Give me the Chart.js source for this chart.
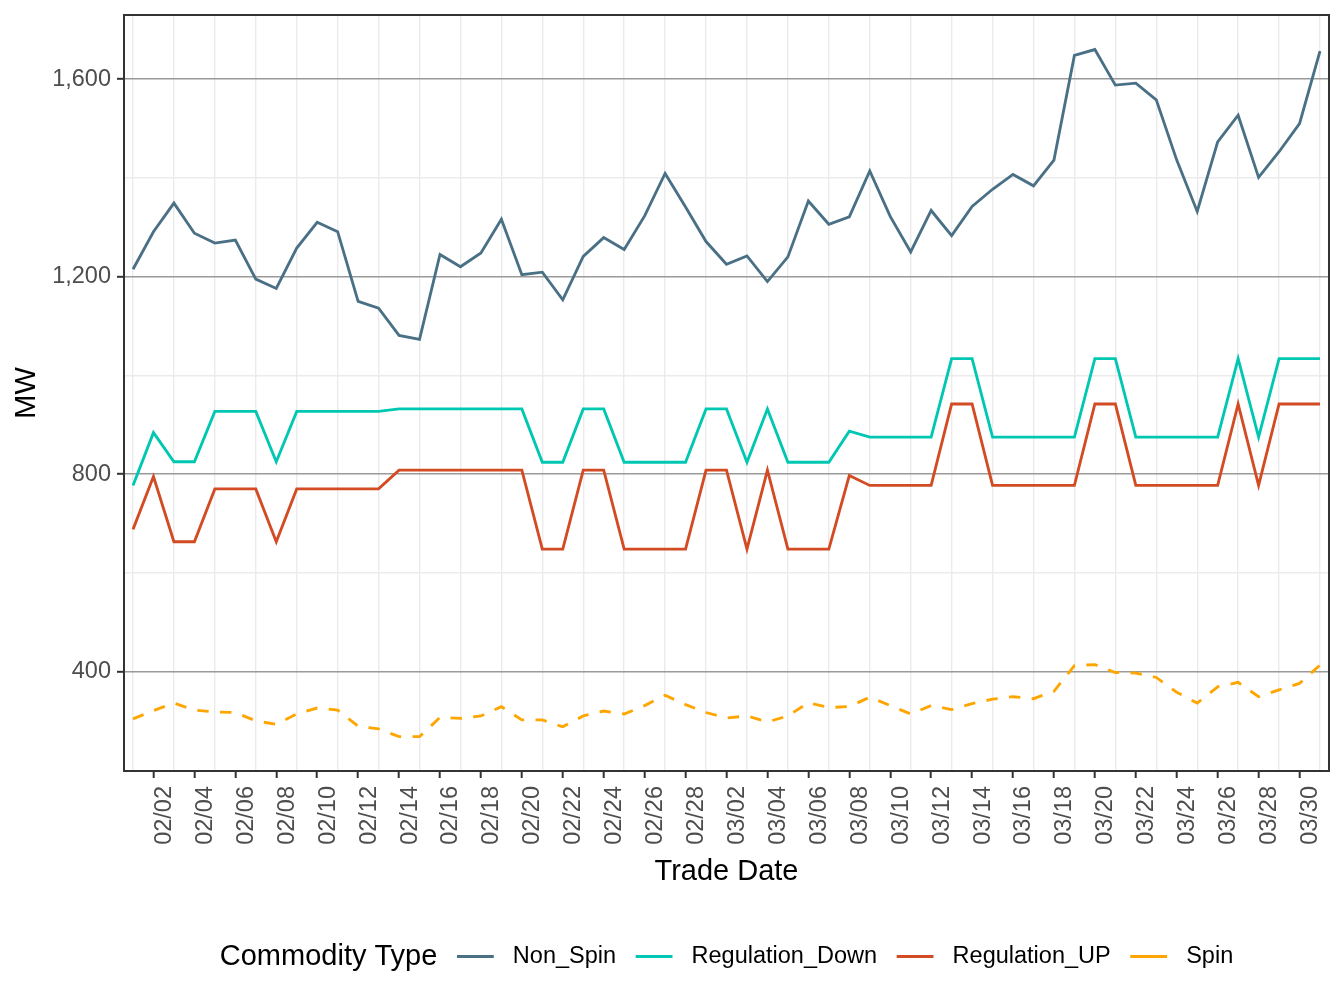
<!DOCTYPE html>
<html><head><meta charset="utf-8">
<script src="https://cdn.jsdelivr.net/npm/chart.js@4.4.1/dist/chart.umd.min.js"></script>
<style>html,body{margin:0;padding:0;background:#fff;}#wrap{width:1344px;height:1008px;}</style>
</head><body><div id="wrap"><canvas id="c" width="1344" height="1008"></canvas></div>
<script>
const dates = ['02/01','02/02','02/03','02/04','02/05','02/06','02/07','02/08','02/09','02/10',
  '02/11','02/12','02/13','02/14','02/15','02/16','02/17','02/18','02/19','02/20',
  '02/21','02/22','02/23','02/24','02/25','02/26','02/27','02/28','03/01','03/02',
  '03/03','03/04','03/05','03/06','03/07','03/08','03/09','03/10','03/11','03/12',
  '03/13','03/14','03/15','03/16','03/17','03/18','03/19','03/20','03/21','03/22',
  '03/23','03/24','03/25','03/26','03/27','03/28','03/29','03/30','03/31'];
const nonSpin = [1215,1291,1349,1288,1268,1274,1195,1176,1258,1310,
  1291,1150,1136,1081,1073,1245,1220,1248,1316,1204,
  1209,1153,1241,1279,1255,1323,1409,1341,1271,1225,
  1242,1190,1240,1353,1306,1321,1414,1322,1250,1334,
  1283,1342,1377,1407,1384,1436,1648,1660,1588,1592,
  1558,1436,1332,1473,1527,1401,1453,1510,1657];
const regulationDown = [777,884,825,825,927,927,927,825,927,927,
  927,927,927,932,932,932,932,932,932,932,
  824,824,932,932,824,824,824,824,932,932,
  824,932,824,824,824,887,875,875,875,875,
  1034,1034,875,875,875,875,875,1034,1034,875,
  875,875,875,875,1034,875,1034,1034,1034];
const regulationUp = [688,795,663,663,770,770,770,663,770,770,
  770,770,770,808,808,808,808,808,808,808,
  648,648,808,808,648,648,648,648,808,808,
  648,808,648,648,648,797,777,777,777,777,
  942,942,777,777,777,777,777,942,942,777,
  777,777,777,777,942,777,942,942,942];
const spin = [304,321,336,322,318,317,300,293,314,326,
  322,289,284,268,268,307,305,310,329,302,
  302,288,310,320,314,331,352,333,317,306,
  310,298,310,337,327,329,348,331,314,331,
  323,335,344,349,345,360,412,414,398,397,
  388,358,336,369,378,349,363,376,413];
const seriesNames = ['Non_Spin','Regulation_Down','Regulation_UP','Spin'];
const seriesColors = ['#4A7086','#00C7B2','#D24B23','#FFA500'];
const yTicks = [400,600,800,1000,1200,1400,1600];
const yMajor = [400,800,1200,1600];
const legendTitle = 'Commodity Type';
const xTitle = 'Trade Date';
const yTitle = 'MW';

const FONT = "'Liberation Sans', Arial, Helvetica, sans-serif";
Chart.defaults.font.family = FONT;

const toXY = arr => arr.map((v, i) => ({x: i, y: v}));
const seriesData = [nonSpin, regulationDown, regulationUp, spin];

const frame = {
  id: 'frame',
  afterDatasetsDraw(chart) {
    const {ctx, chartArea: a} = chart;
    ctx.save();
    ctx.strokeStyle = '#333333';
    ctx.lineWidth = 2;
    ctx.strokeRect(a.left, a.top, a.right - a.left, a.bottom - a.top);
    ctx.restore();
  }
};

const ggLegend = {
  id: 'ggLegend',
  afterDraw(chart) {
    const {ctx, chartArea: a} = chart;
    const cy = 956.5;
    ctx.save();
    ctx.textBaseline = 'middle';
    ctx.font = '29px ' + FONT;
    const tw = ctx.measureText(legendTitle).width;
    ctx.font = '23.5px ' + FONT;
    const keyW = 46, gap = 15, gapKL = 14.5;
    const items = chart.data.datasets.map(ds => ({label: ds.label, color: ds.borderColor, w: ctx.measureText(ds.label).width}));
    let total = tw;
    items.forEach(it => { total += gap + keyW + gapKL + it.w; });
    let x = (a.left + a.right) / 2 - total / 2;
    ctx.fillStyle = '#000';
    ctx.font = '29px ' + FONT;
    ctx.fillText(legendTitle, x, cy);
    x += tw;
    ctx.font = '23.5px ' + FONT;
    items.forEach(it => {
      x += gap;
      ctx.strokeStyle = it.color;
      ctx.lineWidth = 2.85;
      ctx.beginPath();
      ctx.moveTo(x + keyW * 0.1, cy);
      ctx.lineTo(x + keyW * 0.9, cy);
      ctx.stroke();
      x += keyW + gapKL;
      ctx.fillStyle = '#000';
      ctx.fillText(it.label, x, cy);
      x += it.w;
    });
    ctx.restore();
  }
};

new Chart(document.getElementById('c'), {
  type: 'line',
  data: {
    datasets: seriesNames.map((name, k) => ({
      label: name,
      data: toXY(seriesData[k]),
      borderColor: seriesColors[k],
      backgroundColor: seriesColors[k],
      borderWidth: 2.85,
      borderDash: name === 'Spin' ? [11.4, 11.4] : [],
      borderCapStyle: 'butt',
      pointRadius: 0,
      tension: 0,
      fill: false,
      order: seriesNames.length - k
    }))
  },
  options: {
    responsive: false,
    animation: false,
    devicePixelRatio: 1,
    layout: {padding: {left: 0, right: 15, top: 15, bottom: 117}},
    plugins: {legend: {display: false}, tooltip: {enabled: false}},
    scales: {
      x: {
        type: 'linear',
        min: -0.44,
        max: 58.44,
        afterBuildTicks: s => { s.ticks = dates.map((d, i) => ({value: i})); },
        afterFit: s => { s.height = 120; s.paddingLeft = 0; s.paddingRight = 0; },
        border: {display: false},
        grid: {
          color: c => (c.tick && c.tick.value % 2 === 0) ? '#EBEBEB' : 'rgba(0,0,0,0)',
          lineWidth: 1.4,
          tickColor: c => (c.tick && c.tick.value % 2 === 1) ? '#333333' : 'rgba(0,0,0,0)',
          tickLength: 7,
          tickWidth: 2,
          drawTicks: true
        },
        ticks: {
          autoSkip: false,
          maxRotation: 90,
          minRotation: 90,
          padding: 8,
          labelOffset: 11,
          color: '#4D4D4D',
          font: {size: 23.5},
          callback: v => (v % 2 === 1 ? dates[v] : '')
        },
        title: {display: true, text: xTitle, color: '#000', font: {size: 29}, padding: {top: 0, bottom: 2}}
      },
      y: {
        type: 'linear',
        min: 198.5,
        max: 1730,
        afterBuildTicks: s => { s.ticks = yTicks.map(v => ({value: v})); },
        afterFit: s => { s.width = 124; s.paddingTop = 0; s.paddingBottom = 0; },
        border: {display: false},
        grid: {
          color: c => (c.tick && yMajor.includes(c.tick.value)) ? '#9A9A9A' : '#EBEBEB',
          lineWidth: c => (c.tick && yMajor.includes(c.tick.value)) ? 1.6 : 1.4,
          tickColor: c => (c.tick && yMajor.includes(c.tick.value)) ? '#333333' : 'rgba(0,0,0,0)',
          tickLength: 7,
          tickWidth: 2
        },
        ticks: {
          padding: 6,
          color: '#4D4D4D',
          font: {size: 23.5},
          callback: v => (yMajor.includes(v) ? v.toLocaleString('en-US') : '')
        },
        title: {display: true, text: yTitle, color: '#000', font: {size: 29}, padding: {top: 10, bottom: 0}}
      }
    }
  },
  plugins: [frame, ggLegend]
});
</script></body></html>
